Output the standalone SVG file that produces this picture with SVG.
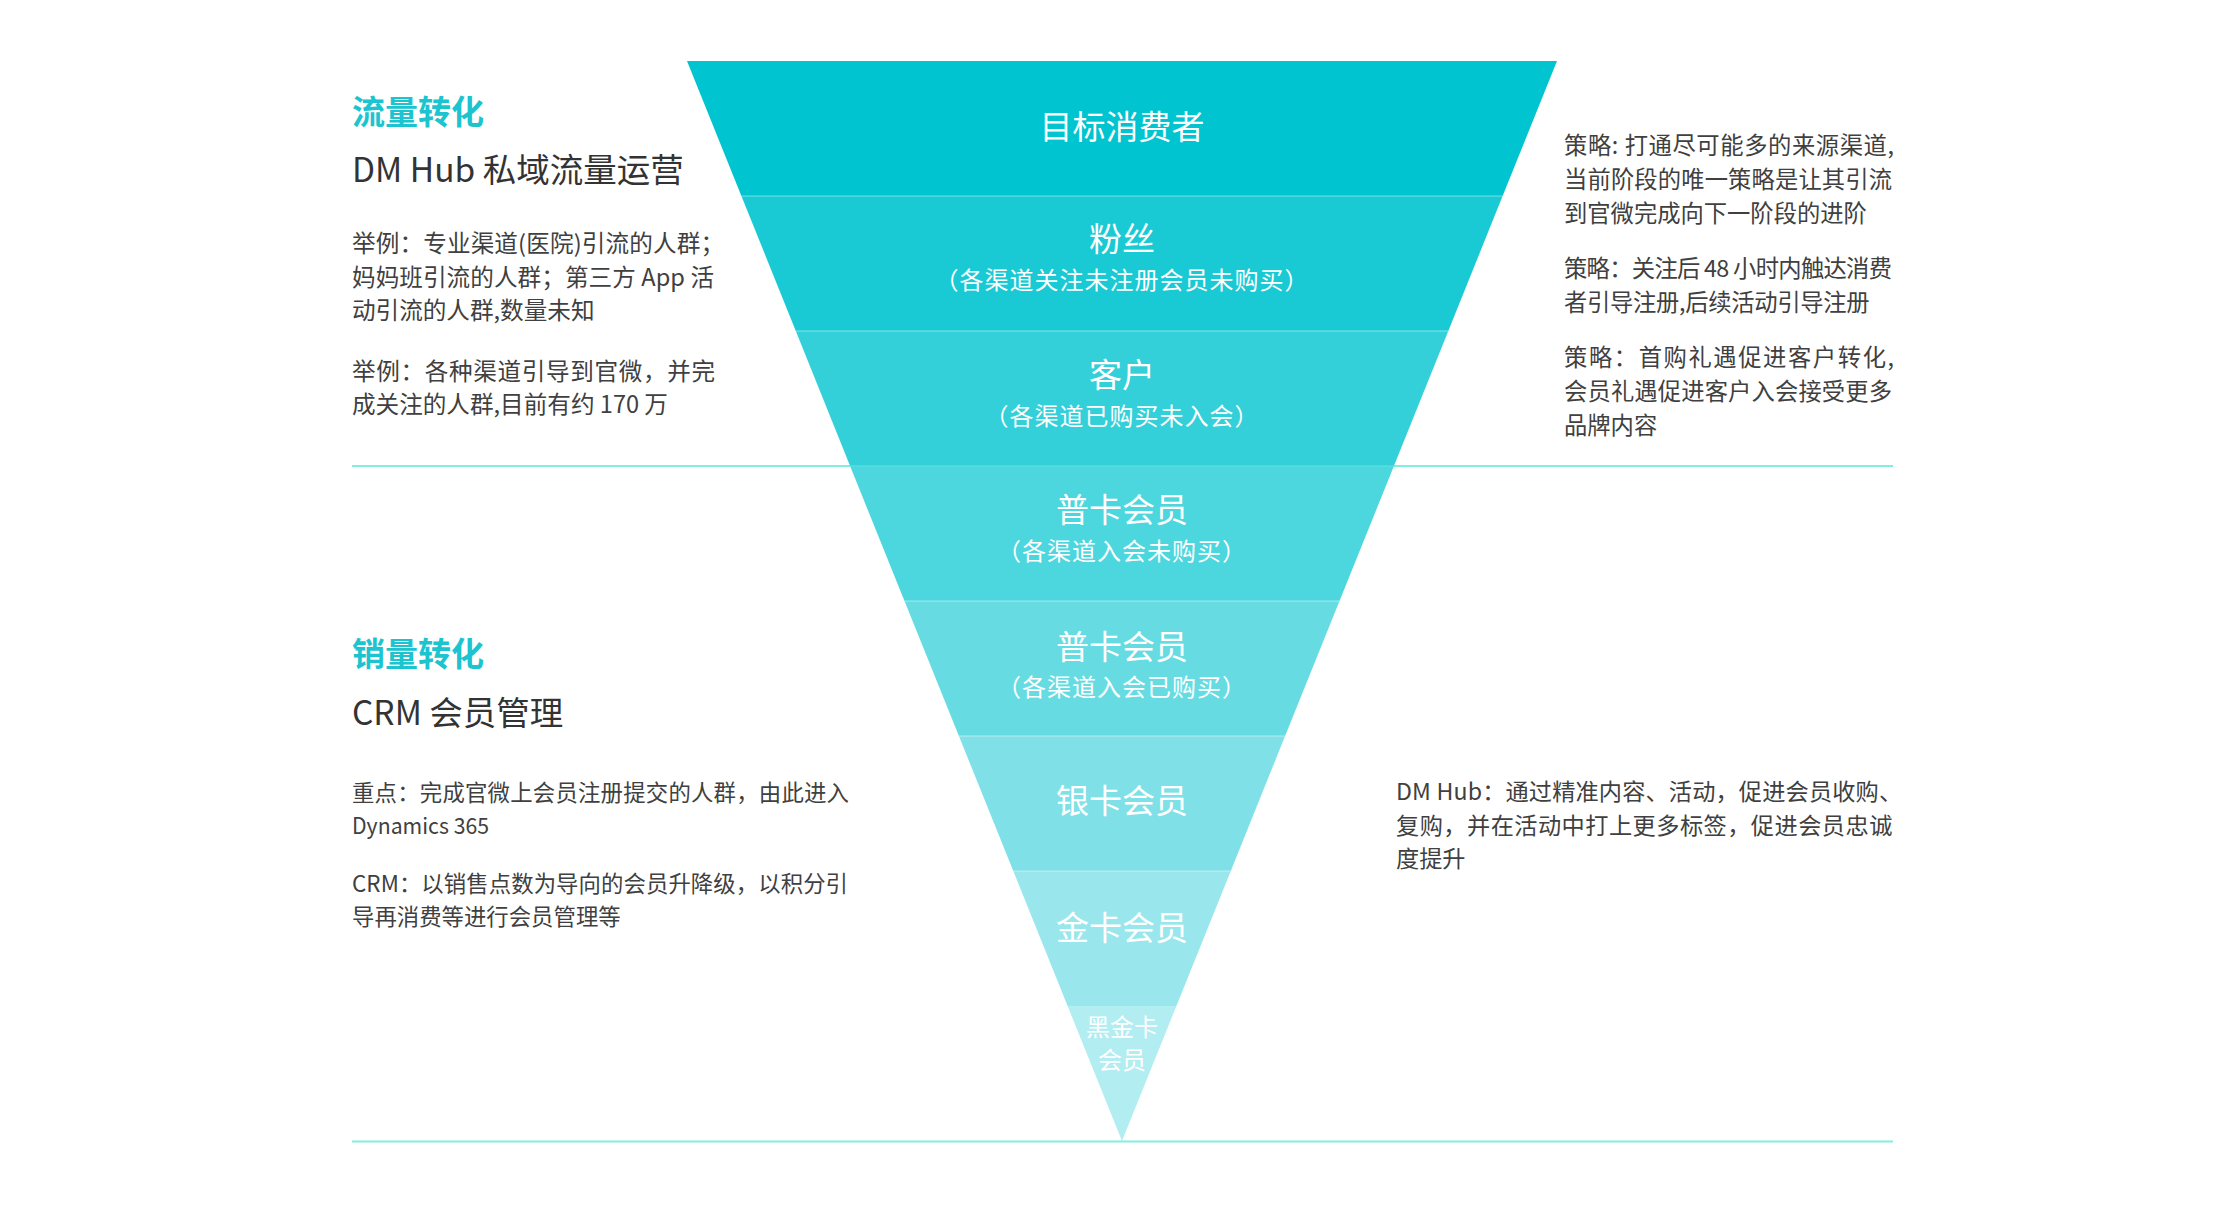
<svg xmlns="http://www.w3.org/2000/svg" width="2240" height="1205" viewBox="0 0 2240 1205">
<style>
text{font-family:"Noto Sans CJK SC","Noto Sans",sans-serif;}
.band{fill:#00c4cf;}
.lbl{fill:#ffffff;font-size:33px;text-anchor:middle;}
.sub{fill:#ffffff;font-size:24px;letter-spacing:1px;text-anchor:middle;}
.sm{fill:#ffffff;font-size:24px;text-anchor:middle;}
.h1{fill:#1cc4cf;font-size:33px;font-weight:bold;}
.h2{fill:#333333;font-size:33.5px;}
.body{fill:#404040;}
.lt{font-size:23.6px;}
.rt{font-size:23.3px;}
.lb{font-size:22.4px;}
.rb{font-size:23.2px;}
.rule{stroke:#7ef0df;stroke-width:2;}
.sep{stroke:#ffffff;stroke-opacity:0.3;stroke-width:1.5;}
</style>
<rect width="2240" height="1205" fill="#ffffff"/>
<g id="rules">
<line class="rule" x1="352" y1="466" x2="1893" y2="466"/>
<line class="rule" x1="352" y1="1141.5" x2="1893" y2="1141.5"/>
</g>
<g id="funnel">
<g id="band-1"><polygon class="band" points="687,61 1557,61 1502.6,196 741.4,196"/><text class="lbl" x="1122" y="139">目标消费者</text></g>
<g id="band-2"><polygon class="band" fill-opacity="0.9" points="741.4,196 1502.6,196 1448.3,331 795.8,331"/><text class="lbl" x="1122" y="251">粉丝</text><text class="sub" x="1122" y="289">（各渠道关注未注册会员未购买）</text></g>
<g id="band-3"><polygon class="band" fill-opacity="0.8" points="795.8,331 1448.3,331 1393.9,466 850.1,466"/><text class="lbl" x="1122" y="387">客户</text><text class="sub" x="1122" y="425">（各渠道已购买未入会）</text></g>
<g id="band-4"><polygon class="band" fill-opacity="0.7" points="850.1,466 1393.9,466 1339.5,601 904.5,601"/><text class="lbl" x="1122" y="522">普卡会员</text><text class="sub" x="1122" y="560">（各渠道入会未购买）</text></g>
<g id="band-5"><polygon class="band" fill-opacity="0.6" points="904.5,601 1339.5,601 1285.1,736 958.9,736"/><text class="lbl" x="1122" y="659">普卡会员</text><text class="sub" x="1122" y="696">（各渠道入会已购买）</text></g>
<g id="band-6"><polygon class="band" fill-opacity="0.5" points="958.9,736 1285.1,736 1230.8,871 1013.3,871"/><text class="lbl" x="1122" y="813">银卡会员</text></g>
<g id="band-7"><polygon class="band" fill-opacity="0.4" points="1013.3,871 1230.8,871 1176.4,1006 1067.6,1006"/><text class="lbl" x="1122" y="940">金卡会员</text></g>
<g id="band-8"><polygon class="band" fill-opacity="0.3" points="1067.6,1006 1176.4,1006 1122,1141"/><text class="sm" x="1122" y="1036">黑金卡</text><text class="sm" x="1122" y="1069">会员</text></g>
<g id="separators">
<line class="sep" x1="741.4" y1="196" x2="1502.6" y2="196"/>
<line class="sep" x1="795.8" y1="331" x2="1448.3" y2="331"/>
<line class="sep" x1="850.1" y1="466" x2="1393.9" y2="466"/>
<line class="sep" x1="904.5" y1="601" x2="1339.5" y2="601"/>
<line class="sep" x1="958.9" y1="736" x2="1285.1" y2="736"/>
<line class="sep" x1="1013.3" y1="871" x2="1230.8" y2="871"/>
</g>
</g>
<g id="left-top">
<text class="h1" x="352" y="124">流量转化</text>
<text class="h2" x="352" y="182">DM Hub 私域流量运营</text>
<text class="body lt" x="352" y="252" textLength="372" lengthAdjust="spacing">举例：专业渠道(医院)引流的人群；</text>
<text class="body lt" x="352" y="286" textLength="362" lengthAdjust="spacing">妈妈班引流的人群；第三方 App 活</text>
<text class="body lt" x="352" y="319">动引流的人群,数量未知</text>
<text class="body lt" x="352" y="380" textLength="363" lengthAdjust="spacing">举例：各种渠道引导到官微，并完</text>
<text class="body lt" x="352" y="413">成关注的人群,目前有约 170 万</text>
</g>
<g id="right-top">
<text class="body rt" x="1564" y="154" textLength="330" lengthAdjust="spacing">策略: 打通尽可能多的来源渠道,</text>
<text class="body rt" x="1564" y="188" textLength="328" lengthAdjust="spacing">当前阶段的唯一策略是让其引流</text>
<text class="body rt" x="1564" y="222">到官微完成向下一阶段的进阶</text>
<text class="body rt" x="1564" y="277" textLength="328" lengthAdjust="spacing">策略：关注后 48 小时内触达消费</text>
<text class="body rt" x="1564" y="311" letter-spacing="-0.3">者引导注册,后续活动引导注册</text>
<text class="body rt" x="1564" y="366" textLength="330" lengthAdjust="spacing">策略：首购礼遇促进客户转化,</text>
<text class="body rt" x="1564" y="400" textLength="328" lengthAdjust="spacing">会员礼遇促进客户入会接受更多</text>
<text class="body rt" x="1564" y="434">品牌内容</text>
</g>
<g id="left-bottom">
<text class="h1" x="352" y="666">销量转化</text>
<text class="h2" x="352" y="725">CRM 会员管理</text>
<text class="body lb" x="352" y="801" textLength="497" lengthAdjust="spacing">重点：完成官微上会员注册提交的人群，由此进入</text>
<text class="body lb" x="352" y="834" textLength="137" lengthAdjust="spacingAndGlyphs">Dynamics 365</text>
<text class="body lb" x="352" y="892" textLength="496" lengthAdjust="spacing">CRM：以销售点数为导向的会员升降级，以积分引</text>
<text class="body lb" x="352" y="925">导再消费等进行会员管理等</text>
</g>
<g id="right-bottom">
<text class="body rb" x="1396" y="800" letter-spacing="0.15">DM Hub：通过精准内容、活动，促进会员收购、</text>
<text class="body rb" x="1396" y="834" letter-spacing="0.47">复购，并在活动中打上更多标签，促进会员忠诚</text>
<text class="body rb" x="1396" y="867">度提升</text>
</g>
</svg>
